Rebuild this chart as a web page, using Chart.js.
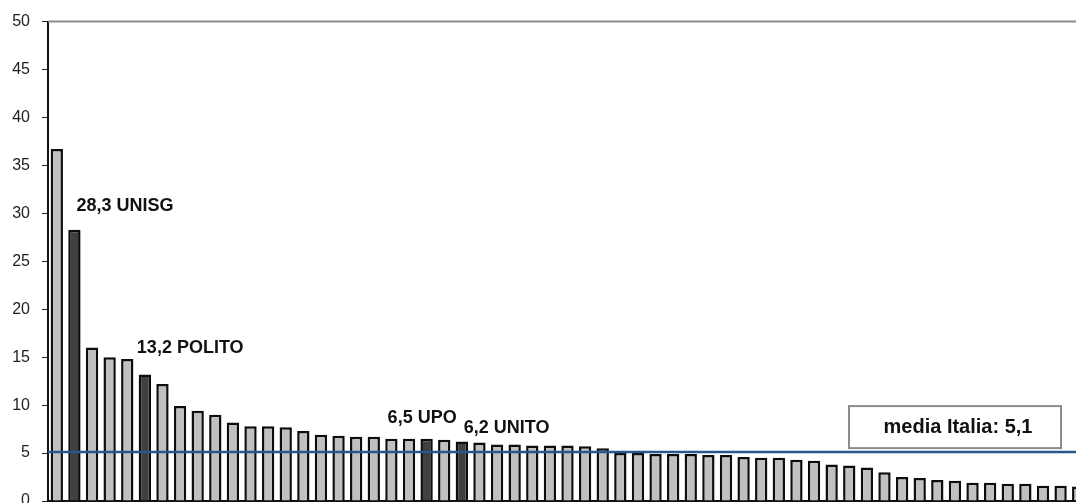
<!DOCTYPE html>
<html>
<head>
<meta charset="utf-8">
<script src="https://cdn.jsdelivr.net/npm/chart.js@4/dist/chart.umd.min.js"></script>
<style>
  html, body { margin: 0; padding: 0; background: #fff; overflow: hidden; }
  #wrap { position: absolute; left: 0; top: 0; width: 1087px; height: 540px; }
</style>
</head>
<body>
<div id="wrap"><canvas id="c"></canvas></div>
<script>
// Atenei ordinati per valore decrescente; evidenziati quelli piemontesi
const categories = [
  'A01','UNISG','A03','A04','A05','POLITO','A07','A08','A09','A10',
  'A11','A12','A13','A14','A15','A16','A17','A18','A19','A20',
  'A21','UPO','A23','UNITO','A25','A26','A27','A28','A29','A30',
  'A31','A32','A33','A34','A35','A36','A37','A38','A39','A40',
  'A41','A42','A43','A44','A45','A46','A47','A48','A49','A50',
  'A51','A52','A53','A54','A55','A56','A57','A58','A59'
];
const values = [
  36.7, 28.3, 16.0, 15.0, 14.8, 13.2, 12.2, 9.9, 9.4, 9.0,
  8.2, 7.8, 7.8, 7.7, 7.3, 6.9, 6.8, 6.7, 6.7, 6.5,
  6.5, 6.5, 6.4, 6.2, 6.1, 5.9, 5.9, 5.8, 5.8, 5.8,
  5.7, 5.5, 5.0, 5.0, 4.9, 4.9, 4.9, 4.8, 4.8, 4.6,
  4.5, 4.5, 4.3, 4.2, 3.8, 3.7, 3.5, 3.0, 2.5, 2.4,
  2.2, 2.1, 1.9, 1.9, 1.8, 1.8, 1.6, 1.6, 1.5
];
const highlighted = ['UNISG', 'POLITO', 'UPO', 'UNITO'];
const mediaItalia = 5.1;
const yTicks = [0, 5, 10, 15, 20, 25, 30, 35, 40, 45, 50];

const fmt = v => v.toFixed(1).replace('.', ',');

// label placement around the top of each highlighted bar (dx from bar centre, dy from bar top)
const labelOffsets = {
  UNISG:  { dx: 2,   dy: -24 },
  POLITO: { dx: -8,  dy: -26 },
  UPO:    { dx: -39, dy: -21 },
  UNITO:  { dx: 2,   dy: -14 }
};

const overlay = {
  id: 'overlay',
  afterDatasetsDraw(chart) {
    const { ctx, chartArea: a, scales } = chart;
    const meta = chart.getDatasetMeta(0);
    ctx.save();

    // plot area top border
    ctx.strokeStyle = '#8c8c8c';
    ctx.lineWidth = 2;
    ctx.beginPath();
    ctx.moveTo(a.left, a.top);
    ctx.lineTo(a.right, a.top);
    ctx.stroke();

    // national average line
    const yAvg = scales.y.getPixelForValue(mediaItalia);
    ctx.strokeStyle = '#2b558d';
    ctx.lineWidth = 2.5;
    ctx.beginPath();
    ctx.moveTo(a.left, yAvg);
    ctx.lineTo(a.right, yAvg);
    ctx.stroke();

    // average caption box
    const bx = a.left + 801, bw = 212, bh = 42;
    const by = yAvg - 4 - bh;
    ctx.fillStyle = '#fff';
    ctx.fillRect(bx, by, bw, bh);
    ctx.strokeStyle = '#8c8c8c';
    ctx.lineWidth = 2;
    ctx.strokeRect(bx, by, bw, bh);
    ctx.fillStyle = '#111';
    ctx.font = 'bold 20px "Liberation Sans", Arial, sans-serif';
    ctx.textAlign = 'center';
    ctx.textBaseline = 'middle';
    ctx.fillText('media Italia: ' + fmt(mediaItalia), bx + bw / 2 + 3, by + bh / 2);

    // highlighted bar labels
    ctx.font = 'bold 18px "Liberation Sans", Arial, sans-serif';
    ctx.textAlign = 'left';
    highlighted.forEach(name => {
      const i = categories.indexOf(name);
      const el = meta.data[i];
      const off = labelOffsets[name];
      ctx.fillText(fmt(values[i]) + ' ' + name, el.x + off.dx, el.y + off.dy);
    });
    ctx.restore();
  }
};

new Chart(document.getElementById('c'), {
  type: 'bar',
  data: {
    labels: categories,
    datasets: [{
      data: values,
      backgroundColor: categories.map(c => highlighted.includes(c) ? '#404040' : '#c0c0c0'),
      borderColor: '#0d0d0d',
      borderWidth: 2.5,
      categoryPercentage: 1,
      barPercentage: 0.7
    }]
  },
  options: {
    responsive: true,
    maintainAspectRatio: false,
    animation: false,
    events: [],
    layout: { padding: { top: 19, left: 0, right: 0, bottom: 0 } },
    plugins: { legend: { display: false }, tooltip: { enabled: false } },
    scales: {
      x: {
        ticks: { display: false },
        grid: { display: false },
        border: { display: true, color: '#111', width: 2 },
        afterFit(s) { s.height = 39; }
      },
      y: {
        min: 0,
        max: 50,
        afterBuildTicks(s) { s.ticks = yTicks.map(v => ({ value: v })); },
        ticks: {
          color: '#222',
          padding: 12,
          font: { family: '"Liberation Sans", Arial, sans-serif', size: 16 }
        },
        grid: {
          drawOnChartArea: false,
          drawTicks: true,
          tickLength: 6,
          tickColor: '#222',
          tickWidth: 1
        },
        border: { display: true, color: '#111', width: 2 },
        afterFit(s) { s.width = 48; }
      }
    }
  },
  plugins: [overlay]
});
</script>
</body>
</html>
